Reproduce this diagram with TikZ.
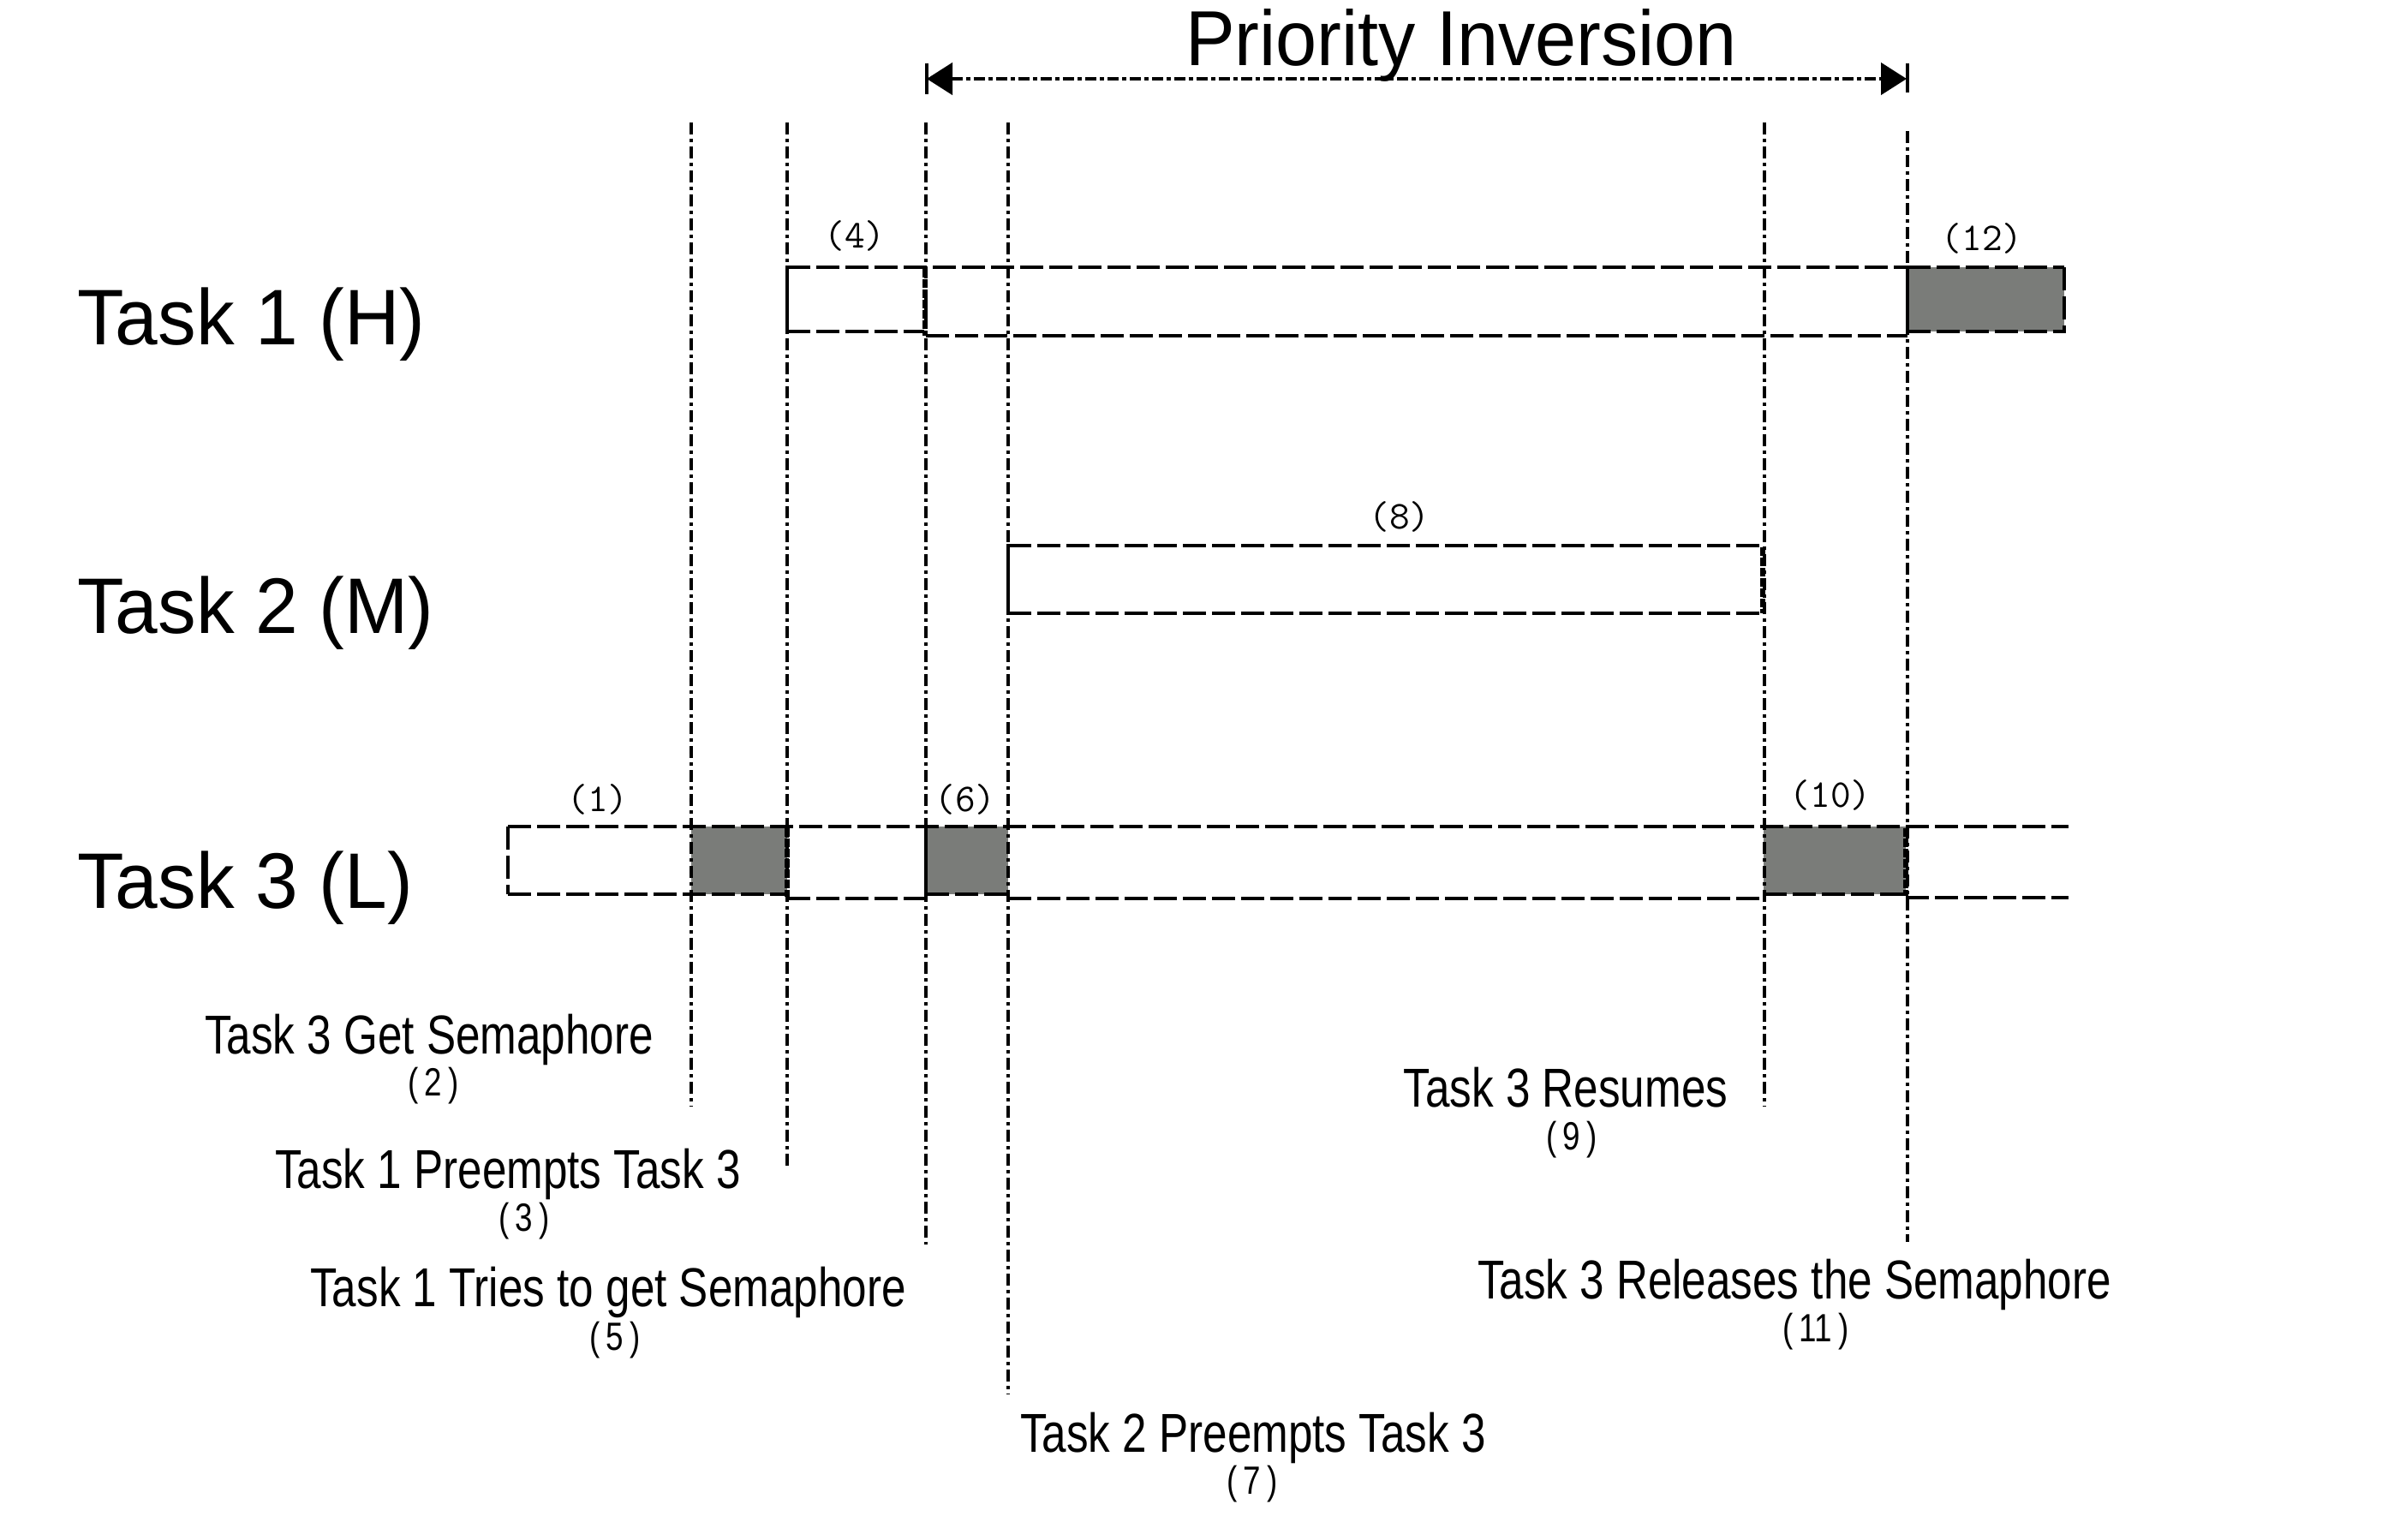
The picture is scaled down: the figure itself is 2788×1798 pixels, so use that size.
\documentclass[tikz,border=0pt]{standalone}
\usepackage{fontspec}
\setmainfont{Liberation Sans}
\newfontfamily\titlefont[FakeStretch=0.95]{Liberation Sans}
\newfontfamily\taskfont[FakeStretch=0.97]{Liberation Sans}
\newfontfamily\notefont[FakeStretch=0.8]{Liberation Sans}
\usetikzlibrary{arrows.meta}
\definecolor{boxgray}{RGB}{122,124,121}
\newcommand{\pnum}[1]{(\kern7pt#1\kern7pt)}
\begin{document}
\begin{tikzpicture}[x=1pt,y=-1pt,
  vline/.style={line width=4pt, dash pattern=on 14pt off 5pt on 4pt off 5pt},
  hdash/.style={line width=4.5pt, dash pattern=on 27pt off 7pt},
  rough/.style={line width=6pt, dash pattern=on 10pt off 2pt},
  edge/.style={line width=4.5pt},
  busy/.style={fill=boxgray},
  tasklabel/.style={anchor=base west, inner sep=0pt, font=\taskfont\fontsize{92}{100}\selectfont},
  note/.style={anchor=base, inner sep=0pt, font=\notefont\fontsize{64}{70}\selectfont},
  notenum/.style={anchor=center, inner sep=0pt, font=\notefont\fontsize{46}{50}\selectfont},
  num/.style={anchor=center, inner sep=0pt, font=\ttfamily\fontsize{46}{48}\selectfont},
  piarrow/.style={line width=4.5pt, dash pattern=on 13pt off 4pt on 5pt off 4pt,
    {Triangle[length=30pt,width=37pt]}-{Triangle[length=30pt,width=37pt]}}
  ]
\fill[white] (0,0) rectangle (2788,1798);
\useasboundingbox (0,0) rectangle (2788,1798);

% ---- title and priority inversion span
\node[anchor=base, inner sep=0pt, font=\titlefont\fontsize{91}{100}\selectfont] (title) at (1706,77) {Priority Inversion};
\coordinate (piL) at (1082,92);
\coordinate (piR) at (2226,92);
\draw[piarrow] (piL) -- (piR);
\draw[edge] ([yshift=18pt]piL) -- ([yshift=-18pt]piL);
\draw[edge] ([yshift=18pt,xshift=1pt]piR) -- ([yshift=-16pt,xshift=1pt]piR);

% ---- task labels
\node[tasklabel] (t1) at (90,402) {Task 1 (H)};
\node[tasklabel] (t2) at (90,739) {Task 2 (M)};
\node[tasklabel] (t3) at (90,1060) {Task 3 (L)};

% ---- busy (grey) segments
\fill[busy] (2227,312) rectangle (2410,387);
\fill[busy] (807,965) rectangle (919,1044);
\fill[busy] (1081,965) rectangle (1177,1044);
\fill[busy] (2059,965) rectangle (2225,1044);

% ---- event lines
\coordinate (e2top) at (807,143);   \coordinate (e2bot) at (807,1292);
\coordinate (e3top) at (919,143);   \coordinate (e3bot) at (919,1362);
\coordinate (e5top) at (1081,143);  \coordinate (e5bot) at (1081,1453);
\coordinate (e7top) at (1177,143);  \coordinate (e7bot) at (1177,1628);
\coordinate (e9top) at (2060,143);  \coordinate (e9bot) at (2060,1292);
\coordinate (e11top) at (2227,153); \coordinate (e11bot) at (2227,1450);
\draw[vline] (e2top) -- (e2bot);
\draw[vline] (e3top) -- (e3bot);
\draw[vline] (e5top) -- (e5bot);
\draw[vline] (e7top) -- (e7bot);
\draw[vline] (e9top) -- (e9bot);
\draw[vline] (e11top) -- (e11bot);

% ---- Task 1 row
\draw[hdash] (919,312) -- (2227,312);
\draw[hdash] (2227,312) -- (2410,312);
\draw[hdash] (919,387) -- (1079,387);
\draw[hdash] (1081,392) -- (2227,392);
\draw[hdash] (2227,387) -- (2410,387);
\draw[edge] (919,310) -- (919,389);
\draw[rough] (1080,314) -- (1080,392);
\draw[edge] (2227,310) -- (2227,389);
\draw[hdash] (2410,312) -- (2410,389);

% ---- Task 2 row
\draw[hdash] (1177,637) -- (2058,637);
\draw[hdash] (1177,716) -- (2058,716);
\draw[edge] (1177,635) -- (1177,718);
\draw[rough] (2058,639) -- (2058,716);

% ---- Task 3 row
\draw[hdash] (593,965) -- (2415,965);
\draw[hdash] (593,1044) -- (919,1044);
\draw[hdash] (919,1049) -- (1081,1049);
\draw[hdash] (1081,1044) -- (1177,1044);
\draw[hdash] (1177,1049) -- (2059,1049);
\draw[hdash] (2059,1044) -- (2225,1044);
\draw[hdash] (2225,1048) -- (2415,1048);
\draw[hdash] (593,965) -- (593,1044);
\draw[rough] (919,967) -- (919,1047);
\draw[edge] (1081,963) -- (1081,1049);
\draw[edge] (1177,1042) -- (1177,1051);
\draw[rough] (2225,967) -- (2225,1046);

% ---- segment numbers
\node[num] (n1) at (698,933) {(1)};
\node[num] (n4) at (998,275) {(4)};
\node[num] (n6) at (1127,933) {(6)};
\node[num] (n8) at (1634,603) {(8)};
\node[num] (n10) at (2137,928) {(10)};
\node[num] (n12) at (2314,278) {(12)};

% ---- event notes
\node[note] (a2) at (501,1230) {Task 3 Get Semaphore};
\node[notenum] (b2) at (506,1268) {\pnum{2}};
\node[note] (a3) at (593,1387) {Task 1 Preempts Task 3};
\node[notenum] (b3) at (612,1426) {\pnum{3}};
\node[note] (a5) at (710,1525) {Task 1 Tries to get Semaphore};
\node[notenum] (b5) at (718,1565) {\pnum{5}};
\node[note] (a9) at (1828,1292) {Task 3 Resumes};
\node[notenum] (b9) at (1835,1331) {\pnum{9}};
\node[note] (a11) at (2095,1516) {Task 3 Releases the Semaphore};
\node[notenum] (b11) at (2120,1555) {\pnum{11}};
\node[note] (a7) at (1463,1695) {Task 2 Preempts Task 3};
\node[notenum] (b7) at (1462,1733) {\pnum{7}};
\end{tikzpicture}
\end{document}
